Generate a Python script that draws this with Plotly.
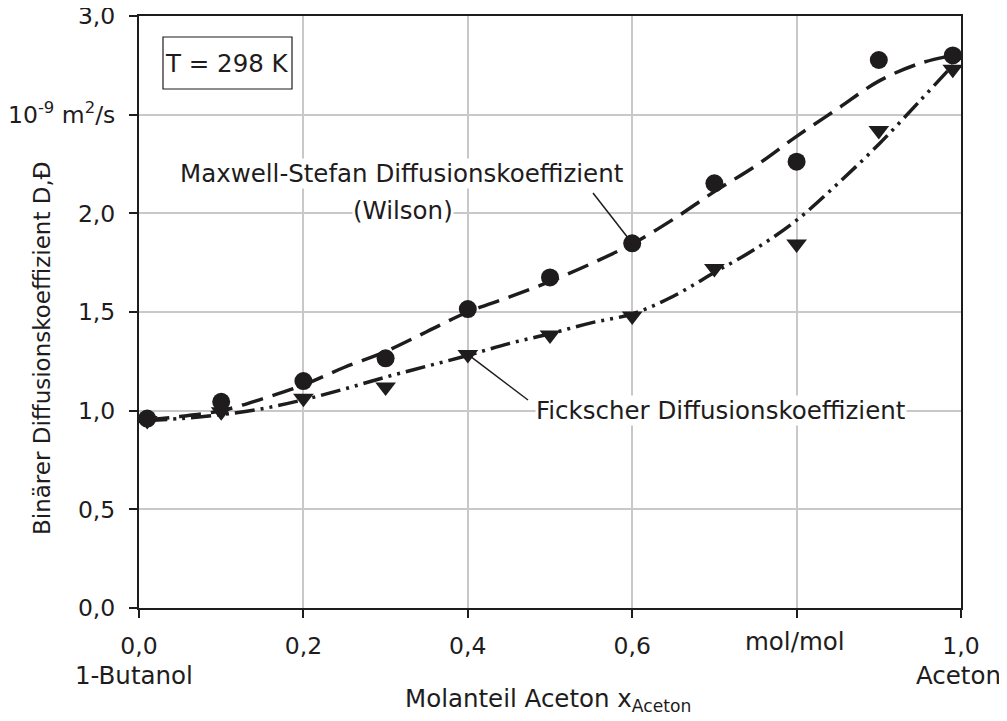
import plotly.graph_objects as go

# ---- data ----
x_meas = [0.01, 0.1, 0.2, 0.3, 0.4, 0.5, 0.6, 0.7, 0.8, 0.9, 0.99]
ms_meas = [0.96, 1.045, 1.15, 1.265, 1.515, 1.675, 1.848, 2.152, 2.262, 2.777, 2.80]
fick_meas = [0.95, 0.995, 1.063, 1.12, 1.285, 1.383, 1.48, 1.72, 1.845, 2.42, 2.73]

x_curve = [0.01, 0.05, 0.1, 0.15, 0.2, 0.25, 0.3, 0.35, 0.4, 0.45, 0.5,
           0.55, 0.6, 0.65, 0.7, 0.75, 0.8, 0.85, 0.9, 0.95, 0.99]
ms_curve = [0.955, 0.97, 1.0, 1.06, 1.13, 1.22, 1.30, 1.40, 1.50, 1.575, 1.655,
            1.745, 1.845, 1.97, 2.11, 2.24, 2.39, 2.53, 2.67, 2.76, 2.80]
fick_curve = [0.95, 0.96, 0.98, 1.01, 1.055, 1.11, 1.17, 1.225, 1.28, 1.34, 1.39,
              1.445, 1.49, 1.58, 1.70, 1.82, 1.965, 2.15, 2.35, 2.57, 2.75]

x_ticks = [0.0, 0.2, 0.4, 0.6, 0.8, 1.0]
x_ticktext = ["0,0", "0,2", "0,4", "0,6", "", "1,0"]
y_ticks = [0.0, 0.5, 1.0, 1.5, 2.0, 2.5, 3.0]
y_ticktext = ["0,0", "0,5", "1,0", "1,5", "2,0", "10<sup>-9</sup> m<sup>2</sup>/s", "3,0"]

INK = "#1e1c1d"
GRID = "#c8c8c8"
FONT = "DejaVu Sans, Arial, sans-serif"
FS_TICK = 23.5
FS_LABEL = 24.5

# page geometry (page has an 8px body margin around the figure)
PL, PR, PT, PB = 139.0, 961.0, 16.0, 608.0
W, H = PR - PL, PB - PT


def px(xp):
    return (xp - PL) / W


def py(yp):
    return (PB - yp) / H


fig = go.Figure()
fig.add_trace(go.Scatter(x=x_curve, y=ms_curve, mode="lines", line_shape="spline",
                         line=dict(color=INK, width=3.5, dash="22px,10px"),
                         showlegend=False, hoverinfo="skip"))
fig.add_trace(go.Scatter(x=x_curve, y=fick_curve, mode="lines", line_shape="spline",
                         line=dict(color=INK, width=3.5, dash="20px,6px,3px,6px,3px,6px"),
                         showlegend=False, hoverinfo="skip"))
fig.add_trace(go.Scatter(x=x_meas, y=fick_meas, mode="markers",
                         marker=dict(symbol="triangle-down", size=18, color=INK),
                         showlegend=False))
fig.add_trace(go.Scatter(x=x_meas, y=ms_meas, mode="markers",
                         marker=dict(symbol="circle", size=18, color=INK),
                         showlegend=False))

# leader lines (from label to point)
fig.add_shape(type="line", xref="paper", yref="paper", x0=px(593), y0=py(193),
              x1=x_meas[6], y1=ms_meas[6] / 3,
              line=dict(color=INK, width=1.5))
fig.add_shape(type="line", xref="paper", yref="paper", x0=px(528), y0=py(400),
              x1=x_meas[4], y1=fick_meas[4] / 3,
              line=dict(color=INK, width=1.5))

# temperature box
fig.add_shape(type="rect", xref="paper", yref="paper", x0=px(163), x1=px(292),
              y0=py(89), y1=py(37), line=dict(color=INK, width=1.2), fillcolor="white")


def label(xp, yp, text, size=FS_LABEL, **kw):
    fig.add_annotation(x=px(xp), y=py(yp), xref="paper", yref="paper", text=text,
                       xanchor="center", yanchor="middle", showarrow=False,
                       font=dict(family=FONT, size=size, color=INK), **kw)


label(227, 63, "T = 298 K")
label(402, 173, "Maxwell-Stefan Diffusionskoeffizient", bgcolor="white", borderpad=0)
label(403, 210, "(Wilson)", bgcolor="white", borderpad=0)
label(721, 410, "Fickscher Diffusionskoeffizient", bgcolor="white", borderpad=0)
label(795, 641, "mol/mol")
label(134, 675, "1-Butanol")
label(958, 675, "Aceton")
label(548, 700, "Molanteil Aceton x<sub>Aceton</sub>")
label(42, 348, "Binärer Diffusionskoeffizient D,Đ", size=23, textangle=-90)

fig.update_xaxes(range=[0, 1], tickvals=x_ticks, ticktext=x_ticktext,
                 showgrid=True, gridcolor=GRID, gridwidth=1.5,
                 showline=True, linecolor=INK, linewidth=2, mirror=True,
                 ticks="outside", ticklen=8, tickwidth=1.5, tickcolor=INK,
                 ticklabelstandoff=8, zeroline=False, automargin=False,
                 ticklabeloverflow="allow",
                 tickfont=dict(family=FONT, size=FS_TICK, color=INK))
fig.update_yaxes(range=[0, 3], tickvals=y_ticks, ticktext=y_ticktext,
                 showgrid=True, gridcolor=GRID, gridwidth=1.5,
                 showline=True, linecolor=INK, linewidth=2, mirror=True,
                 ticks="outside", ticklen=8, tickwidth=1.5, tickcolor=INK,
                 ticklabelstandoff=9, zeroline=False, automargin=False,
                 ticklabeloverflow="allow",
                 tickfont=dict(family=FONT, size=FS_TICK, color=INK))

fig.update_layout(width=999, height=713,
                  margin=dict(l=PL - 8, r=1007 - PR, t=PT - 8, b=721 - PB),
                  plot_bgcolor="white", paper_bgcolor="white",
                  font=dict(family=FONT, size=FS_TICK, color=INK))

fig.write_html("out.html")
